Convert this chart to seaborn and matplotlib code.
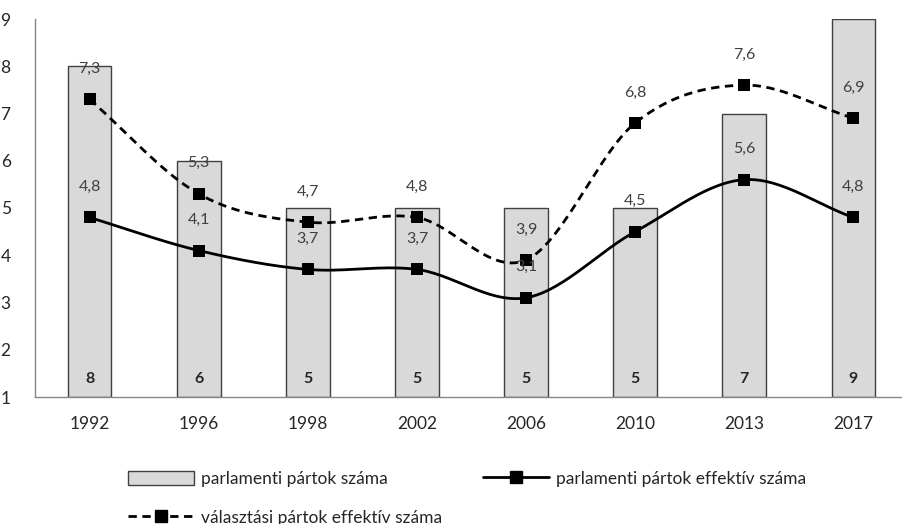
import matplotlib

matplotlib.use("Agg")
import matplotlib.pyplot as plt
import numpy as np
import pandas as pd
import seaborn as sns
from matplotlib.lines import Line2D
from matplotlib.patches import Patch
from matplotlib.ticker import FixedLocator

years = ["1992", "1996", "1998", "2002", "2006", "2010", "2013", "2017"]
parties = [8, 6, 5, 5, 5, 5, 7, 9]
eff_parl = [4.8, 4.1, 3.7, 3.7, 3.1, 4.5, 5.6, 4.8]
eff_elect = [7.3, 5.3, 4.7, 4.8, 3.9, 6.8, 7.6, 6.9]

label_parties = "parlamenti pártok száma"
label_parl = "parlamenti pártok effektív száma"
label_elect = "választási pártok effektív száma"


def smooth(y, steps=30, tension=0.5):
    # Catmull-Rom curve through the points, similar to Excel's smoothed line
    y = np.asarray(y, dtype=float)
    x = np.arange(len(y), dtype=float)
    px = np.concatenate([[2 * x[0] - x[1]], x, [2 * x[-1] - x[-2]]])
    py = np.concatenate([[2 * y[0] - y[1]], y, [2 * y[-1] - y[-2]]])
    xs, ys = [], []
    for i in range(1, len(px) - 2):
        t = np.linspace(0, 1, steps, endpoint=False)
        h00 = 2 * t**3 - 3 * t**2 + 1
        h10 = t**3 - 2 * t**2 + t
        h01 = -2 * t**3 + 3 * t**2
        h11 = t**3 - t**2
        mx0 = tension * (px[i + 1] - px[i - 1])
        mx1 = tension * (px[i + 2] - px[i])
        my0 = tension * (py[i + 1] - py[i - 1])
        my1 = tension * (py[i + 2] - py[i])
        xs.append(h00 * px[i] + h10 * mx0 + h01 * px[i + 1] + h11 * mx1)
        ys.append(h00 * py[i] + h10 * my0 + h01 * py[i + 1] + h11 * my1)
    xs.append([x[-1]])
    ys.append([y[-1]])
    return np.concatenate(xs), np.concatenate(ys)


sns.set_style("white")
plt.rcParams["font.family"] = ["Lato", "DejaVu Sans"]

df = pd.DataFrame({"year": years, "parties": parties})

fig = plt.figure(figsize=(9.03, 5.24), dpi=100)
ax = fig.add_axes([35 / 903, 127 / 524, 873 / 903, 378 / 524])

sns.barplot(
    data=df, x="year", y="parties", ax=ax, color="#d9d9d9",
    edgecolor="#404040", linewidth=1.0, width=0.4, saturation=1,
)
# bars start from the axis floor at 1
for patch, v in zip(ax.patches, parties):
    patch.set_y(1)
    patch.set_height(v - 1)

xs, ys = smooth(eff_elect)
ax.plot(xs, ys, color="black", lw=2.0, ls=(0, (3, 2)), zorder=3)
xs, ys = smooth(eff_parl)
ax.plot(xs, ys, color="black", lw=2.0, zorder=3)

pos = np.arange(len(years))
sns.scatterplot(x=pos, y=eff_elect, ax=ax, marker="s", color="black", s=70,
                edgecolor="black", linewidth=0, zorder=4)
sns.scatterplot(x=pos, y=eff_parl, ax=ax, marker="s", color="black", s=70,
                edgecolor="black", linewidth=0, zorder=4)

for i, v in enumerate(eff_elect):
    ax.annotate(f"{v:.1f}".replace(".", ","), (i, v), xytext=(0, 22),
                textcoords="offset points", ha="center", va="center",
                fontsize=11.5, color="#404040", zorder=5)
for i, v in enumerate(eff_parl):
    ax.annotate(f"{v:.1f}".replace(".", ","), (i, v), xytext=(0, 22),
                textcoords="offset points", ha="center", va="center",
                fontsize=11.5, color="#404040", zorder=5)
for i, v in enumerate(parties):
    ax.text(i, 1.38, str(v), ha="center", va="center", fontsize=11.5,
            fontweight="bold", color="#262626", zorder=5)

ax.set_xlim(-0.5, len(years) - 0.5)
ax.set_ylim(1, 9)
ax.set_yticks(range(1, 10))
ax.set_xlabel("")
ax.set_ylabel("")
ax.xaxis.set_minor_locator(FixedLocator(np.arange(-0.5, len(years), 1)))
ax.tick_params(axis="x", which="major", length=0, pad=14, labelsize=12.5, colors="#262626")
ax.tick_params(axis="x", which="minor", length=4.5, color="#868686", width=1)
ax.tick_params(axis="y", length=4.5, color="#868686", width=1, pad=13,
               labelsize=12.5, colors="#262626")
for lab in ax.get_yticklabels():
    lab.set_color("#262626")
for side in ["top", "right"]:
    ax.spines[side].set_visible(False)
for side in ["left", "bottom"]:
    ax.spines[side].set_color("#868686")
    ax.spines[side].set_linewidth(1)

h_bar = Patch(facecolor="#d9d9d9", edgecolor="#404040", linewidth=1.0)
h_parl = Line2D([], [], color="black", lw=2.0, marker="s", markersize=8)
h_elect = Line2D([], [], color="black", lw=2.0, ls=(0, (3, 2)), marker="s", markersize=8)
# column-major fill: first column gets bar + elect, second column gets parl
fig.legend(
    [h_bar, h_elect, h_parl], [label_parties, label_elect, label_parl],
    loc="upper left", bbox_to_anchor=(112 / 903, 1 - 455 / 524), ncol=2,
    frameon=False, fontsize=12.5, handlelength=3.8, handleheight=0.9,
    handletextpad=0.4, columnspacing=2.4, labelspacing=1.3,
    labelcolor="#262626",
)

fig.savefig("out.png", dpi=100)
